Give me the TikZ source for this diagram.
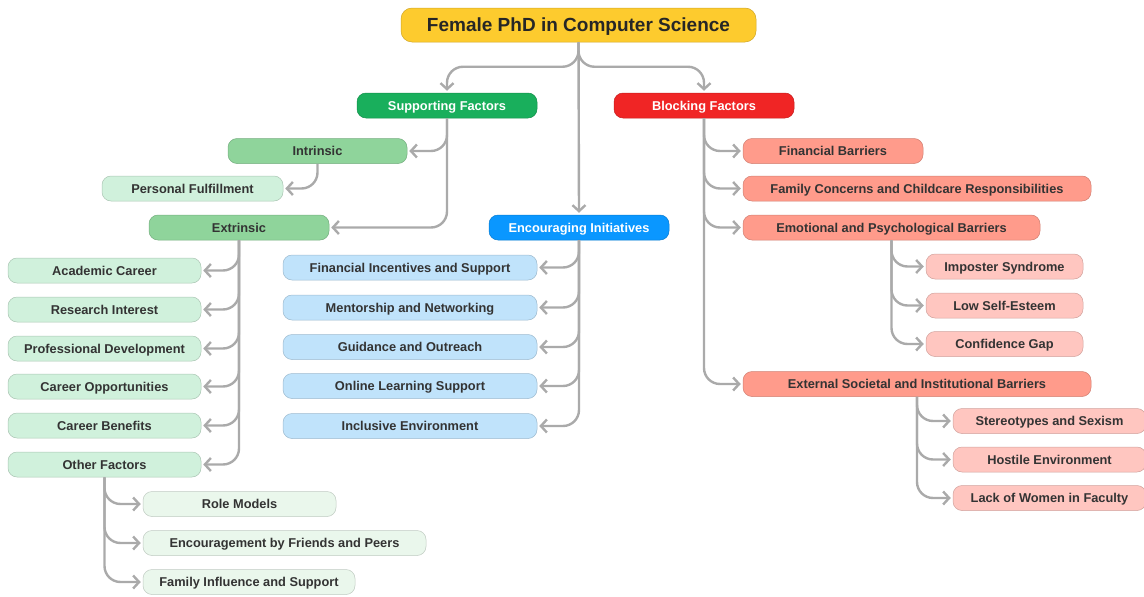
\documentclass[tikz,border=0pt]{standalone}
\usepackage{fontspec}
\setmainfont{Liberation Sans}
\usetikzlibrary{arrows.meta}
\definecolor{rootc}{HTML}{FDCB2E}
\definecolor{supc}{HTML}{19AF5C}
\definecolor{blkc}{HTML}{F02525}
\definecolor{encc}{HTML}{0A97FF}
\definecolor{midg}{HTML}{8FD49B}
\definecolor{lightg}{HTML}{D0F1DC}
\definecolor{palg}{HTML}{EAF7EC}
\definecolor{lightb}{HTML}{C0E3FB}
\definecolor{salm}{HTML}{FF9B8B}
\definecolor{pinkc}{HTML}{FFC6C0}
\definecolor{txt}{HTML}{333333}
\definecolor{linec}{HTML}{AAAAAA}
\tikzset{
  box/.style={rectangle, rounded corners=9pt, fill=#1, draw=#1!82!black, line width=0.5pt,
    minimum height=25pt, inner sep=0pt, text=txt, text height=9.2pt, text depth=0pt,
    font=\fontsize{12.8}{14}\selectfont\bfseries},
  wbox/.style={box=#1, text=white},
  conn/.style={draw=linec, line width=2.4pt, rounded corners=16pt,
    -{Straight Barb[length=6pt,width=13pt]}, shorten >=2pt},
}
\begin{document}
\begin{tikzpicture}[x=1pt,y=-1pt]
\useasboundingbox (0,0) rectangle (1144,597);
% top
\node[box=rootc, minimum width=355pt, minimum height=34pt, rounded corners=11pt,
  text=black!85, text height=13.7pt, text depth=0pt, font=\fontsize{19}{21}\selectfont\bfseries] (root) at (578.5,25) {Female PhD in Computer Science};
\node[wbox=supc, minimum width=180pt] (sup) at (447,105.5) {Supporting Factors};
\node[wbox=blkc, minimum width=180pt] (blk) at (704,105.5) {Blocking Factors};
\node[wbox=encc, minimum width=180pt] (enc) at (579,227.5) {Encouraging Initiatives};
% supporting
\node[box=midg, minimum width=179pt] (intr) at (317.5,151) {Intrinsic};
\node[box=lightg, minimum width=181pt] (pf) at (192.5,188.5) {Personal Fulfillment};
\node[box=midg, minimum width=180pt] (extr) at (239,227.5) {Extrinsic};
\node[box=lightg, minimum width=193pt] (ac) at (104.5,270.5) {Academic Career};
\node[box=lightg, minimum width=193pt] (ri) at (104.5,309.5) {Research Interest};
\node[box=lightg, minimum width=193pt] (pd) at (104.5,348.5) {Professional Development};
\node[box=lightg, minimum width=193pt] (co) at (104.5,386.5) {Career Opportunities};
\node[box=lightg, minimum width=193pt] (cb) at (104.5,425.5) {Career Benefits};
\node[box=lightg, minimum width=193pt] (of) at (104.5,464.5) {Other Factors};
\node[box=palg, minimum width=193pt] (rm) at (239.5,504) {Role Models};
\node[box=palg, minimum width=283pt] (ef) at (284.5,543) {Encouragement by Friends and Peers};
\node[box=palg, minimum width=212pt] (fi2) at (249,582) {Family Influence and Support};
% encouraging
\node[box=lightb, minimum width=254pt] (fis) at (410,267.5) {Financial Incentives and Support};
\node[box=lightb, minimum width=254pt] (mn) at (410,307.5) {Mentorship and Networking};
\node[box=lightb, minimum width=254pt] (go) at (410,347) {Guidance and Outreach};
\node[box=lightb, minimum width=254pt] (ol) at (410,386) {Online Learning Support};
\node[box=lightb, minimum width=254pt] (ie) at (410,426) {Inclusive Environment};
% blocking
\node[box=salm, minimum width=180pt] (fb) at (833,151) {Financial Barriers};
\node[box=salm, minimum width=348pt] (fc) at (917,188.5) {Family Concerns and Childcare Responsibilities};
\node[box=salm, minimum width=297pt] (em) at (891.5,227.5) {Emotional and Psychological Barriers};
\node[box=pinkc, minimum width=157pt] (is) at (1004.5,266.5) {Imposter Syndrome};
\node[box=pinkc, minimum width=157pt] (ls) at (1004.5,305.5) {Low Self-Esteem};
\node[box=pinkc, minimum width=157pt] (cg) at (1004.5,344) {Confidence Gap};
\node[box=salm, minimum width=348pt] (ex) at (917,384) {External Societal and Institutional Barriers};
\node[box=pinkc, minimum width=193pt] (ss) at (1049.5,421) {Stereotypes and Sexism};
\node[box=pinkc, minimum width=193pt] (he) at (1049.5,459.5) {Hostile Environment};
\node[box=pinkc, minimum width=193pt] (lw) at (1049.5,498) {Lack of Women in Faculty};
% connectors
\draw[conn] (root.south) |- ([yshift=26pt]sup.north) -- (sup.north);
\draw[conn] (root.south) |- ([yshift=26pt]blk.north) -- (blk.north);
\draw[conn] (root.south) -- (enc.north);
\foreach \c in {intr,extr} \draw[conn] (sup.south) |- (\c.east);
\draw[conn] (intr.south) |- (pf.east);
\foreach \c in {ac,ri,pd,co,cb,of} \draw[conn] (extr.south) |- (\c.east);
\foreach \c in {rm,ef,fi2} \draw[conn] (of.south) |- (\c.west);
\foreach \c in {fis,mn,go,ol,ie} \draw[conn] (enc.south) |- (\c.east);
\foreach \c in {fb,fc,em,ex} \draw[conn] (blk.south) |- (\c.west);
\foreach \c in {is,ls,cg} \draw[conn] (em.south) |- (\c.west);
\foreach \c in {ss,he,lw} \draw[conn] (ex.south) |- (\c.west);
\end{tikzpicture}
\end{document}
